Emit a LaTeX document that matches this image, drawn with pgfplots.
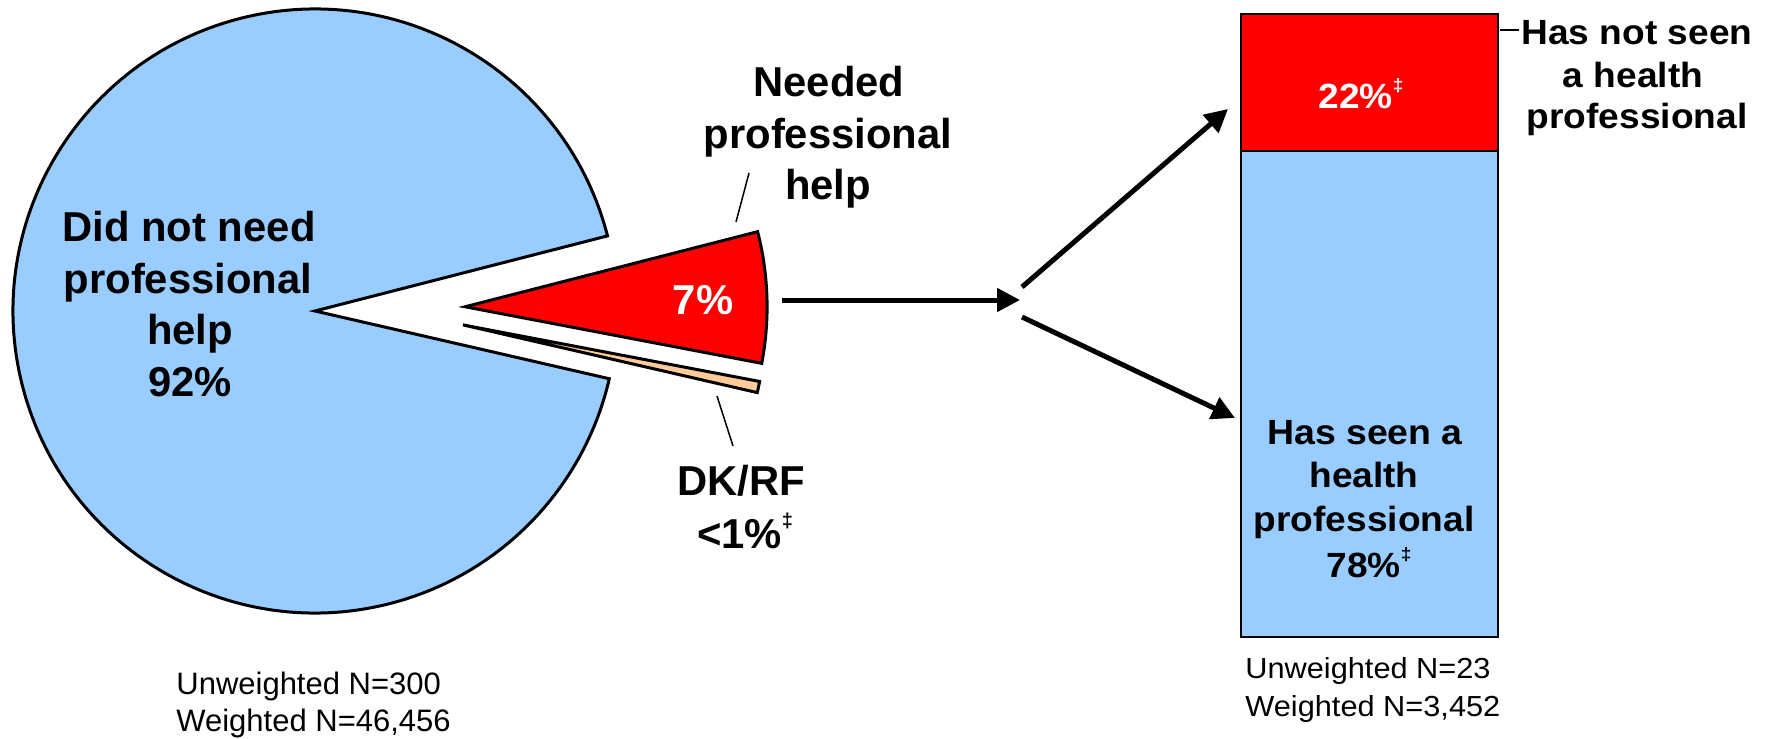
\documentclass[border=0pt]{standalone}
\usepackage{fontspec}
\setmainfont{Liberation Sans}
\usepackage{graphicx}
\usepackage{pgfplots}
\pgfplotsset{compat=1.18}
\usepackage{pgfplotstable}
\usetikzlibrary{arrows.meta}
\definecolor{pieblue}{HTML}{99CCFF}
\definecolor{piered}{HTML}{FF0000}
\definecolor{pietan}{HTML}{FFCC99}

% pie: share (%), explode offset (in radii)
\pgfplotstableread{
slice value dx dy
Didnot 92.4 0 0
DKRF 0.6 0.490 -0.046
Needed 7.0 0.497 0.014
}\pietable
% stacked bar (%)
\pgfplotstableread{
x seen notseen
0 78 22
}\bartable

\newcommand\bigb{\fontsize{20.9}{24}\selectfont\bfseries}
\newcommand\midb{\fontsize{17.5}{20}\selectfont\bfseries}
\newcommand\smallr{\fontsize{15.5}{18}\selectfont}
\newcommand\smallrr{\fontsize{14.5}{17}\selectfont}
\newcommand\ddg[1]{\raisebox{0.48em}{\fontsize{#1}{#1}\selectfont ‡}}
\newcommand\st[1]{\scalebox{1.06}[1]{#1}}
\newcommand\stt[1]{\scalebox{1.07}[1]{#1}}

\begin{document}
\begin{tikzpicture}[x=0.5pt,y=-0.5pt]
\path[use as bounding box] (0,0) rectangle (1773,739);
\pgfplotstablegetelem{0}{value}\of\pietable \pgfmathsetmacro\vA{\pgfplotsretval}
\pgfplotstablegetelem{1}{value}\of\pietable \pgfmathsetmacro\vB{\pgfplotsretval}
\pgfplotstablegetelem{2}{value}\of\pietable \pgfmathsetmacro\vC{\pgfplotsretval}
\pgfplotstablegetelem{1}{dx}\of\pietable \pgfmathsetmacro\dxB{\pgfplotsretval}
\pgfplotstablegetelem{1}{dy}\of\pietable \pgfmathsetmacro\dyB{\pgfplotsretval}
\pgfplotstablegetelem{2}{dx}\of\pietable \pgfmathsetmacro\dxC{\pgfplotsretval}
\pgfplotstablegetelem{2}{dy}\of\pietable \pgfmathsetmacro\dyC{\pgfplotsretval}
\pgfmathsetmacro\aA{14.4}
\pgfmathsetmacro\aB{\aA+3.6*\vA}
\pgfmathsetmacro\aC{\aB+3.6*\vB}
\pgfmathsetmacro\aD{\aC+3.6*\vC}

\begin{axis}[at={(157.5pt,-155.5pt)}, anchor=center, width=302pt, height=302pt,
  scale only axis, xmin=-1, xmax=1, ymin=-1, ymax=1, hide axis, clip=false]
\filldraw[fill=pieblue, line width=1.5pt, line join=miter]
  (axis cs:0,0) -- (axis cs:{cos(\aA)},{sin(\aA)})
  arc[start angle=\aA, end angle=\aB, radius=151pt] -- cycle;
\filldraw[fill=pietan, line width=1.5pt, line join=miter]
  (axis cs:\dxB,\dyB) -- (axis cs:{\dxB+cos(\aB)},{\dyB+sin(\aB)})
  arc[start angle=\aB, end angle=\aC, radius=151pt] -- cycle;
\filldraw[fill=piered, line width=1.5pt, line join=miter]
  (axis cs:\dxC,\dyC) -- (axis cs:{\dxC+cos(\aC)},{\dyC+sin(\aC)})
  arc[start angle=\aC, end angle=\aD, radius=151pt] -- cycle;
\end{axis}

\begin{axis}[at={(620.5pt,-318.5pt)}, anchor=south west, width=128.5pt, height=311.5pt,
  scale only axis, xmin=-0.5, xmax=0.5, ymin=0, ymax=100, hide axis, clip=false,
  ybar stacked, bar width=128.5pt]
\addplot[fill=pieblue, draw=black, line width=0.8pt] table[x=x,y=seen]{\bartable};
\addplot[fill=piered, draw=black, line width=0.8pt] table[x=x,y=notseen]{\bartable};
\end{axis}

% pie labels
\begin{scope}[every node/.style={inner sep=0pt, anchor=base}]
\node[font=\bigb] at (189,241) {Did not need};
\node[font=\bigb] at (188,293) {professional};
\node[font=\bigb] at (190,344) {help};
\node[font=\bigb] at (190,396) {92\%};
\node[font=\bigb] at (829,96) {Needed};
\node[font=\bigb] at (828,148) {professional};
\node[font=\bigb] at (828,199) {help};
\node[font=\bigb, text=white] at (703,314) {7\%};
\node[font=\bigb] at (741,495) {DK/RF};
\node[font=\bigb] at (745,548) {<1\%\ddg{10}};
\node[font=\smallr, anchor=base west] at (176,694) {Unweighted N=300};
\node[font=\smallr, anchor=base west] at (176,731) {Weighted N=46,456};
% bar labels
\node[font=\midb, text=white] at (1361,108) {\st{22\%\ddg{9}}};
\node[font=\midb] at (1637,44) {\st{Has not seen}};
\node[font=\midb] at (1633,87) {\st{a health}};
\node[font=\midb] at (1637,128) {\st{professional}};
\node[font=\midb] at (1365,444) {\stt{Has seen a}};
\node[font=\midb] at (1364,487) {\st{health}};
\node[font=\midb] at (1364,531) {\st{professional}};
\node[font=\midb] at (1369,577) {\st{78\%\ddg{9}}};
\node[font=\smallrr, anchor=base west] at (1245,678) {\st{Unweighted N=23}};
\node[font=\smallrr, anchor=base west] at (1245,716) {\st{Weighted N=3,452}};
\end{scope}

% leader lines
\draw[line width=0.75pt] (749,173) -- (736,222);
\draw[line width=0.75pt] (717,396) -- (733,446);
\draw[line width=0.75pt] (1500,30) -- (1519,30);

% arrows
\begin{scope}[line width=2.5pt, -{Triangle[length=11.5pt,width=11.5pt]}]
\draw (782,300) -- (1020,300);
\draw (1022,287) -- (1228,109);
\draw (1022,317) -- (1235,418);
\end{scope}
\end{tikzpicture}
\end{document}
